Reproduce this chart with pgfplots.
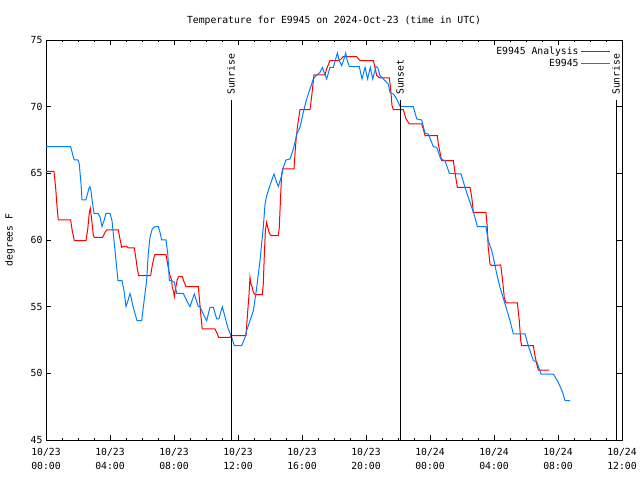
\documentclass[border=0pt]{standalone}
\usepackage{pgfplots}
\pgfplotsset{compat=1.18}
\usepackage{pgfplotstable}
\usepackage{fontspec}
\setmainfont{DejaVu Sans Mono}
\definecolor{obsblue}{RGB}{0,128,255}
\pgfplotstableread{
h F
0 65.15
0.5 65.15
0.61 63.83
0.67 62.82
0.73 61.95
0.77 61.5
1.54 61.5
1.64 60.7
1.77 59.95
2.5 59.95
2.61 60.83
2.71 62.07
2.77 62.37
2.86 61.45
2.96 60.33
3.02 60.2
3.54 60.2
3.69 60.57
3.79 60.75
4.52 60.75
4.625 60.07
4.73 59.45
4.83 59.5
5.0 59.55
5.14 59.4
5.52 59.4
5.625 58.57
5.71 57.83
5.79 57.33
6.54 57.33
6.64 58.08
6.75 58.7
6.81 58.9
7.5 58.9
7.64 57.95
7.75 57.33
7.86 56.95
7.89 56.45
7.96 56.2
8.02 55.75
8.11 56.45
8.21 57.08
8.31 57.27
8.52 57.25
8.64 56.82
8.75 56.5
9.52 56.5
9.58 55.7
9.69 54.2
9.77 53.33
10.56 53.33
10.71 52.95
10.79 52.7
11.5 52.7
11.61 52.83
12.5 52.83
12.58 54.2
12.69 55.95
12.75 57.2
12.81 56.7
12.89 56.45
12.96 56.07
13.06 55.9
13.52 55.9
13.58 56.7
13.64 58.7
13.71 60.7
13.79 61.32
13.86 60.95
13.94 60.57
14.06 60.33
14.52 60.33
14.58 60.95
14.625 62.2
14.67 63.45
14.73 64.95
14.79 65.33
15.5 65.33
15.56 66.45
15.625 67.45
15.71 68.45
15.77 68.95
15.875 69.78
16.5 69.78
16.61 70.83
16.75 72.38
17.44 72.38
17.54 72.83
17.75 73.45
18.27 73.45
18.44 73.58
18.58 73.75
19.42 73.75
19.625 73.45
20.46 73.45
20.56 72.95
20.67 72.33
20.875 72.15
21.46 72.15
21.54 71.33
21.625 70.08
21.71 69.78
22.33 69.78
22.5 69.08
22.71 68.7
23.48 68.7
23.58 68.33
23.69 67.83
24.46 67.83
24.52 67.2
24.625 66.57
24.73 65.95
25.46 65.95
25.56 65.07
25.71 63.95
26.5 63.95
26.61 63.2
26.71 62.07
27.5 62.07
27.58 60.95
27.64 59.45
27.75 58.2
27.86 58.08
28.42 58.13
28.54 56.95
28.64 55.7
28.75 55.28
29.46 55.28
29.58 53.95
29.67 52.45
29.73 52.08
30.46 52.08
30.56 51.33
30.67 50.7
30.77 50.25
31.46 50.25
}\analysis
\pgfplotstableread{
h F
0 67.0
1.54 67.0
1.63 66.6
1.69 66.3
1.77 66.0
2.0 66.0
2.08 65.7
2.13 65.0
2.19 64.2
2.25 63.0
2.48 63.0
2.56 63.3
2.69 63.9
2.75 64.0
2.81 63.7
2.88 63.0
3.0 62.0
3.25 62.0
3.375 61.75
3.5 61.0
3.625 61.45
3.75 62.0
4.0 62.0
4.125 61.45
4.25 59.95
4.375 58.45
4.5 56.95
4.75 56.95
4.875 56.2
5.0 55.0
5.125 55.45
5.25 55.98
5.31 55.75
5.44 55.0
5.69 53.95
5.98 53.95
6.08 54.95
6.29 56.95
6.39 58.95
6.5 60.2
6.64 60.83
6.81 61.0
7.02 61.0
7.125 60.57
7.23 60.0
7.5 60.0
7.61 58.95
7.71 56.95
7.86 56.95
8.02 56.82
8.17 56.0
8.58 56.0
8.79 55.45
9.0 55.0
9.27 55.95
9.52 55.0
9.625 55.0
9.83 54.45
10.04 53.95
10.25 54.95
10.46 54.95
10.67 54.08
10.81 54.08
11.02 55.0
11.25 53.95
11.39 53.33
11.61 52.7
11.77 52.08
12.23 52.08
12.44 52.7
12.54 53.2
12.75 53.95
12.96 54.7
13.17 56.45
13.375 58.45
13.58 60.95
13.69 62.7
13.79 63.3
14.0 64.1
14.17 64.7
14.25 64.95
14.42 64.32
14.52 64.02
14.73 64.83
14.83 65.45
15.0 66.0
15.25 66.08
15.46 66.83
15.56 67.32
15.67 67.95
15.875 68.45
16.08 69.57
16.29 70.58
16.5 71.33
16.71 72.08
16.92 72.38
17.125 72.57
17.27 72.95
17.44 72.38
17.54 72.08
17.75 72.95
17.96 72.95
18.21 74.03
18.33 73.45
18.48 73.08
18.625 73.58
18.73 74.03
18.83 73.45
18.96 73.0
19.58 73.0
19.75 72.08
19.94 72.95
20.1 72.08
20.27 72.95
20.42 72.08
20.625 73.0
20.73 72.95
20.875 72.33
21.19 71.95
21.39 71.7
21.5 71.07
21.71 70.95
21.92 70.58
22.125 70.02
22.96 70.0
23.17 69.08
23.48 69.0
23.69 68.0
23.89 67.95
24.21 67.0
24.42 66.95
24.67 66.08
24.94 65.95
25.21 65.0
25.94 64.95
26.19 63.95
26.39 63.2
26.61 62.45
26.81 61.7
26.96 61.0
27.5 61.0
27.64 59.95
27.86 59.2
27.96 58.7
28.17 57.45
28.375 56.45
28.69 55.2
29.0 53.95
29.21 52.95
29.94 52.95
30.14 52.08
30.46 50.95
30.67 50.88
30.94 49.95
31.71 49.95
32.02 49.32
32.29 48.57
32.44 47.95
32.75 47.95
}\observed
\begin{document}
\begin{tikzpicture}[font=\fontsize{9.8}{12.5}\selectfont]
\begin{axis}[
  name=ax, at={(0,0)}, anchor=south west,
  scale only axis, width=576bp, height=400bp,
  xmin=0, xmax=36, ymin=45, ymax=75,
  xtick={0,4,...,36}, minor xtick={0,1,...,36},
  ytick={45,50,...,75},
  xticklabels={{10/23\\00:00},{10/23\\04:00},{10/23\\08:00},{10/23\\12:00},{10/23\\16:00},{10/23\\20:00},{10/24\\00:00},{10/24\\04:00},{10/24\\08:00},{10/24\\12:00}},
  xticklabel style={align=center, yshift=-5bp, font=\fontsize{9.8}{13.5}\selectfont},
  /pgf/number format/assume math mode=true,
  tick align=inside,
  major tick length=5bp, minor tick length=2.5bp,
  tick style={black, line width=0.8bp},
  axis line style={black, line width=0.8bp},
  title={Temperature for E9945 on 2024-Oct-23 (time in UTC)},
  title style={at={(axis description cs:0.5,1)}, anchor=base, yshift=11bp},
  ylabel={degrees F},
  ylabel style={at={(axis description cs:-0.0625,0.5)}, anchor=center},
  legend style={fill=none, draw=none, at={(axis description cs:1,1)}, anchor=north east,
    xshift=-8bp, yshift=-3bp, legend cell align=right, row sep=-1bp},
  legend plot pos=right,
  legend image code/.code={\draw[#1, line width=1.2bp] (0bp,0bp) -- (29bp,0bp);},
]
\addplot[red, line width=1bp] table[x=h, y=F] {\analysis};
\addlegendentry{E9945 Analysis}
\addplot[obsblue, line width=1bp] table[x=h, y=F] {\observed};
\addlegendentry{E9945}
\addplot[black, line width=0.8bp, forget plot] coordinates {(11.5625,45) (11.5625,70.5)};
\addplot[black, line width=0.8bp, forget plot] coordinates {(22.125,45) (22.125,70.5)};
\addplot[black, line width=0.8bp, forget plot] coordinates {(35.625,45) (35.625,70.5)};
\node[rotate=90, anchor=west, inner sep=0pt, xshift=5bp] at (axis cs:11.5625,70.5) {Sunrise};
\node[rotate=90, anchor=west, inner sep=0pt, xshift=5bp] at (axis cs:22.125,70.5) {Sunset};
\node[rotate=90, anchor=west, inner sep=0pt, xshift=5bp] at (axis cs:35.625,70.5) {Sunrise};
\end{axis}
\pgfresetboundingbox
\path[use as bounding box] ([xshift=-46bp,yshift=-40bp]ax.south west) rectangle ([xshift=18bp,yshift=40bp]ax.north east);
\end{tikzpicture}
\end{document}
